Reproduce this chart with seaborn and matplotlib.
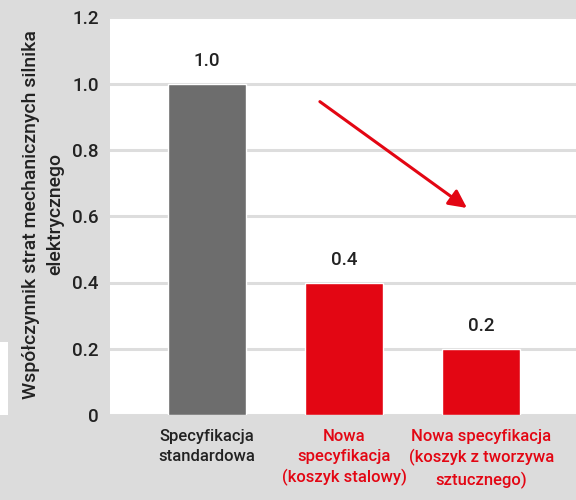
import matplotlib
matplotlib.use("Agg")
import matplotlib.pyplot as plt
from matplotlib.patches import Rectangle
import seaborn as sns
import pandas as pd

# Data
categories = [
    "Specyfikacja\nstandardowa",
    "Nowa\nspecyfikacja\n(koszyk stalowy)",
    "Nowa specyfikacja\n(koszyk z tworzywa\nsztucznego)",
]
values = [1.0, 0.4, 0.2]
value_labels = ["1.0", "0.4", "0.2"]
bar_colors = ["#6d6d6d", "#e30613", "#e30613"]
label_colors = ["#222222", "#e30613", "#e30613"]
y_ticks = [0, 0.2, 0.4, 0.6, 0.8, 1.0, 1.2]
y_tick_labels = ["0", "0.2", "0.4", "0.6", "0.8", "1.0", "1.2"]
y_label = "Współczynnik strat mechanicznych silnika\nelektrycznego"

sns.set_theme(style="white")
plt.rcParams["font.family"] = ["Roboto", "DejaVu Sans"]

df = pd.DataFrame({"cat": categories, "val": values})

fig = plt.figure(figsize=(5.76, 5.0), dpi=100, facecolor="#dcdcdc")
ax = fig.add_axes([110 / 576, 1 - 415 / 500, 466 / 576, 397.5 / 500])
ax.set_facecolor("white")

sns.barplot(data=df, x="cat", y="val", hue="cat", palette=bar_colors,
            legend=False, width=0.57, saturation=1, ax=ax, zorder=3)

ax.set_xlim(-0.707, 2.69)
ax.set_ylim(0, 1.2)
ax.set_yticks(y_ticks)
ax.set_yticklabels(y_tick_labels, fontsize=13.5, color="#222222",
                   fontweight="medium")
ax.yaxis.grid(True, color="#dddddd", linewidth=2.2, zorder=0)
ax.set_axisbelow(True)
for s in ax.spines.values():
    s.set_visible(False)
ax.tick_params(axis="y", length=0, pad=8)
ax.tick_params(axis="x", length=0, pad=10)

ax.set_xticks(range(len(categories)))
ax.set_xticklabels(categories, fontsize=12, linespacing=1.4,
                   fontweight="medium")
for t, c in zip(ax.get_xticklabels(), label_colors):
    t.set_color(c)

ax.set_xlabel("")
ax.set_ylabel(y_label, fontsize=14, color="#222222", linespacing=1.45,
              fontweight="medium")
ax.yaxis.set_label_coords(-0.098, 0.505)

# Value labels above bars
for i, (v, lab) in enumerate(zip(values, value_labels)):
    ax.annotate(lab, (i, v), xytext=(0, 10), textcoords="offset points",
                ha="center", va="bottom", fontsize=13.5, color="#222222",
                fontweight="medium")

# Downward trend arrow
ax.annotate("", xy=(1.895, 0.625), xytext=(0.823, 0.946),
            arrowprops=dict(arrowstyle="-|>,head_length=0.9,head_width=0.45",
                            color="#e30613", lw=2.2, shrinkA=0, shrinkB=0),
            zorder=4)

# small white strip at lower-left edge
fig.patches.append(Rectangle((0, 1 - 415 / 500), 8 / 576, 73 / 500,
                             transform=fig.transFigure, facecolor="white",
                             edgecolor="none", zorder=0))

fig.savefig("out.png", dpi=100, facecolor=fig.get_facecolor())
